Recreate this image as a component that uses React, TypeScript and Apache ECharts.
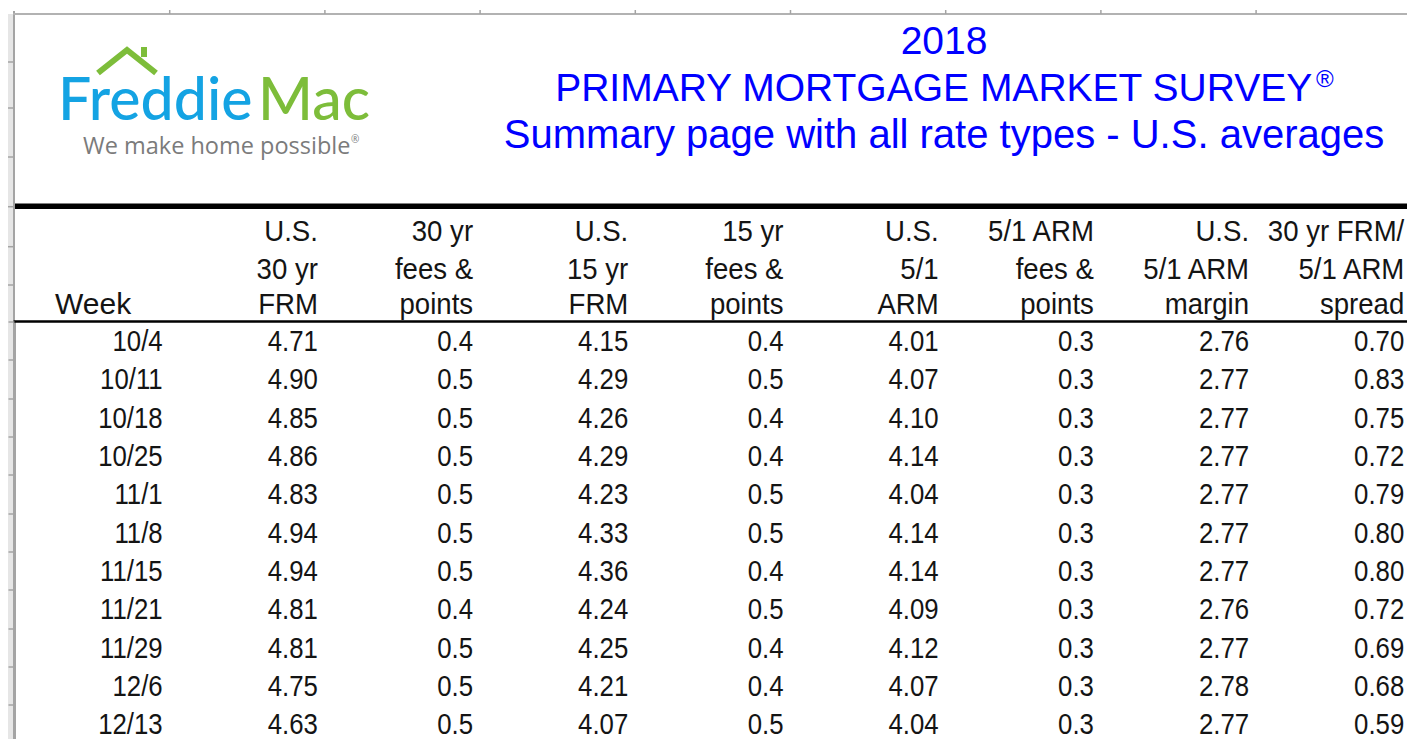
import React, { useEffect, useRef } from "react";
import * as echarts from "echarts";

// ---------- data ----------
const weeks = ["10/4", "10/11", "10/18", "10/25", "11/1", "11/8", "11/15", "11/21", "11/29", "12/6", "12/13"];
const frm30 = [4.71, 4.9, 4.85, 4.86, 4.83, 4.94, 4.94, 4.81, 4.81, 4.75, 4.63];
const fees30 = [0.4, 0.5, 0.5, 0.5, 0.5, 0.5, 0.5, 0.4, 0.5, 0.5, 0.5];
const frm15 = [4.15, 4.29, 4.26, 4.29, 4.23, 4.33, 4.36, 4.24, 4.25, 4.21, 4.07];
const fees15 = [0.4, 0.5, 0.4, 0.4, 0.5, 0.5, 0.4, 0.5, 0.4, 0.4, 0.5];
const arm51 = [4.01, 4.07, 4.1, 4.14, 4.04, 4.14, 4.14, 4.09, 4.12, 4.07, 4.04];
const feesArm = [0.3, 0.3, 0.3, 0.3, 0.3, 0.3, 0.3, 0.3, 0.3, 0.3, 0.3];
const margin51 = [2.76, 2.77, 2.77, 2.77, 2.77, 2.77, 2.77, 2.76, 2.77, 2.78, 2.77];
const spread = [0.7, 0.83, 0.75, 0.72, 0.79, 0.8, 0.8, 0.72, 0.69, 0.68, 0.59];

const columns = [frm30, fees30, frm15, fees15, arm51, feesArm, margin51, spread];
const decimals = [2, 1, 2, 1, 2, 1, 2, 2];

const headers = [
  ["", "", "Week"],
  ["U.S.", "30 yr", "FRM"],
  ["30 yr", "fees &", "points"],
  ["U.S.", "15 yr", "FRM"],
  ["15 yr", "fees &", "points"],
  ["U.S.", "5/1", "ARM"],
  ["5/1 ARM", "fees &", "points"],
  ["U.S.", "5/1 ARM", "margin"],
  ["30 yr FRM/", "5/1 ARM", "spread"],
];

const titleLines = ["2018", "PRIMARY MORTGAGE MARKET SURVEY", "Summary page with all rate types - U.S. averages"];

// ---------- layout constants ----------
const W = 1407;
const H = 739;
const GRID_LEFT = 14.5;
const COL_W = 155.2;
const GRID_TOP = 321.7;
const ROW_H = 38.33;
const HEADER_LINE_OFFSETS = [-109.9, -71.9, -37.4]; // relative to first data row centre
const CELL_PAD = 7;
const TABLE_FONT = '"Liberation Sans", Arial, sans-serif';
const TEXT_COLOR = "#141414";
const FRAME = "#a4a4a4";

type Cell = { edge: number; row: number; text: string; header: number; left?: boolean };

export default function App() {
  const ref = useRef<HTMLDivElement | null>(null);

  useEffect(() => {
    if (!ref.current) return;
    const chart = echarts.init(ref.current, undefined, { renderer: "svg" });

    const cells: Cell[] = [];
    weeks.forEach((w, ri) => cells.push({ edge: 1, row: ri, text: w, header: -1 }));
    columns.forEach((col, ci) => {
      col.forEach((v, ri) => {
        cells.push({ edge: ci + 2, row: ri, text: v.toFixed(decimals[ci]), header: -1 });
      });
    });
    headers.forEach((h, ci) => {
      h.forEach((t, li) => {
        if (!t) return;
        cells.push({ edge: ci + 1, row: 0, text: t, header: li, left: ci === 0 });
      });
    });

    const headerRowTicks = [62, 108, 157, 206.7, 246.7, 285];
    const frame: any[] = [
      { type: "rect", shape: { x: 8, y: 14, width: 5, height: H - 14 }, style: { fill: "#e6e6e6" }, silent: true },
      { type: "line", shape: { x1: 14, y1: 11, x2: 14, y2: H }, style: { stroke: FRAME, lineWidth: 2 }, silent: true },
      { type: "line", shape: { x1: 13, y1: 14, x2: W, y2: 14 }, style: { stroke: "#b2b2b2", lineWidth: 2 }, silent: true },
      ...headerRowTicks.map((y) => ({
        type: "line",
        shape: { x1: 8, y1: y, x2: 13, y2: y },
        style: { stroke: FRAME, lineWidth: 1.5 },
        silent: true,
      })),
      ...Array.from({ length: 8 }, (_, i) => GRID_LEFT + (i + 1) * COL_W).map((x) => ({
        type: "line",
        shape: { x1: x, y1: 10, x2: x, y2: 14 },
        style: { stroke: FRAME, lineWidth: 1.5 },
        silent: true,
      })),
      // thick rule under the title block
      { type: "rect", shape: { x: 15, y: 203.5, width: W - 15, height: 5.5 }, style: { fill: "#000" }, silent: true },
      // logo
      {
        type: "polyline",
        shape: { points: [[98, 73], [127, 50], [156, 73]] },
        style: { stroke: "#7dbd3a", lineWidth: 6, fill: "none", lineJoin: "miter" },
        silent: true,
      },
      { type: "rect", shape: { x: 141, y: 47, width: 6, height: 10 }, style: { fill: "#7dbd3a" }, silent: true },
      {
        type: "text",
        x: 58,
        y: 97,
        style: { text: "Freddie", fontFamily: "Lato", fontSize: 59, fontWeight: 500, fill: "#14a3e3", align: "left", verticalAlign: "middle" },
        silent: true,
      },
      {
        type: "text",
        x: 258,
        y: 97,
        style: { text: "Mac", fontFamily: "Lato", fontSize: 59, fontWeight: 500, fill: "#7dbd3a", align: "left", verticalAlign: "middle" },
        silent: true,
      },
      {
        type: "text",
        x: 83,
        y: 145,
        style: { text: "We make home possible", fontFamily: "Open Sans", fontSize: 23.5, fill: "#7b7b7b", align: "left", verticalAlign: "middle" },
        silent: true,
      },
      {
        type: "text",
        x: 351,
        y: 139,
        style: { text: "®", fontFamily: "Open Sans", fontSize: 10, fill: "#7b7b7b", align: "left", verticalAlign: "middle" },
        silent: true,
      },
    ];

    chart.setOption({
      animation: false,
      title: {
        text: `${titleLines[0]}\n${titleLines[1]}{r|®}\n{s|${titleLines[2]}}`,
        left: 944,
        top: 16.5,
        textAlign: "center",
        padding: 0,
        textStyle: {
          color: "#0000ff",
          fontFamily: '"Liberation Sans", Arial, sans-serif',
          fontSize: 39,
          fontWeight: "normal",
          lineHeight: 47,
          rich: {
            r: { color: "#0000ff", fontSize: 24, fontFamily: '"Liberation Sans", Arial, sans-serif', verticalAlign: "top", padding: [3, 0, 0, 3] },
            s: { color: "#0000ff", fontSize: 40, fontFamily: '"Liberation Sans", Arial, sans-serif', lineHeight: 47 },
          },
        },
      },
      grid: {
        left: GRID_LEFT,
        top: GRID_TOP,
        width: COL_W * 9,
        height: ROW_H * weeks.length,
        containLabel: false,
        outerBoundsMode: "none",
      },
      xAxis: {
        type: "value",
        position: "top",
        min: 0,
        max: 9,
        interval: 1,
        axisLine: { show: true, onZero: false, lineStyle: { color: "#000", width: 2.5 } },
        axisTick: { show: false },
        splitLine: { show: false },
        axisLabel: { show: false },
      },
      yAxis: {
        type: "category",
        data: weeks,
        inverse: true,
        position: "left",
        axisLine: { show: true, lineStyle: { color: FRAME, width: 2 } },
        axisTick: { show: true, inside: false, length: 6, lineStyle: { color: FRAME, width: 1.5 } },
        splitLine: { show: false },
        axisLabel: { show: false },
      },
      series: [
        {
          type: "custom",
          coordinateSystem: "cartesian2d",
          silent: true,
          clip: false,
          encode: { x: 0, y: 1 },
          data: cells.map((c) => [c.edge, c.row]),
          renderItem: (params: any, api: any) => {
            const pt = api.coord([api.value(0), api.value(1)]);
            const cell = cells[params.dataIndex];
            const isHeader = cell.header >= 0;
            const y = isHeader ? pt[1] + HEADER_LINE_OFFSETS[cell.header] : pt[1];
            let x = pt[0] - CELL_PAD;
            let align = "right";
            if (cell.left) {
              x = pt[0] - api.size([1, 0])[0] + 40.5;
              align = "left";
            }
            return {
              type: "text",
              x,
              y,
              scaleX: cell.left ? 1 : isHeader ? 0.92 : 0.86,
              style: {
                text: cell.text,
                fill: TEXT_COLOR,
                fontFamily: TABLE_FONT,
                fontSize: 30,
                align,
                verticalAlign: "middle",
              },
            };
          },
        },
      ],
      graphic: { elements: frame },
    });

    return () => chart.dispose();
  }, []);

  return (
    <div
      ref={ref}
      style={{ position: "fixed", left: 0, top: 0, width: W, height: H, background: "#fff" }}
    />
  );
}
